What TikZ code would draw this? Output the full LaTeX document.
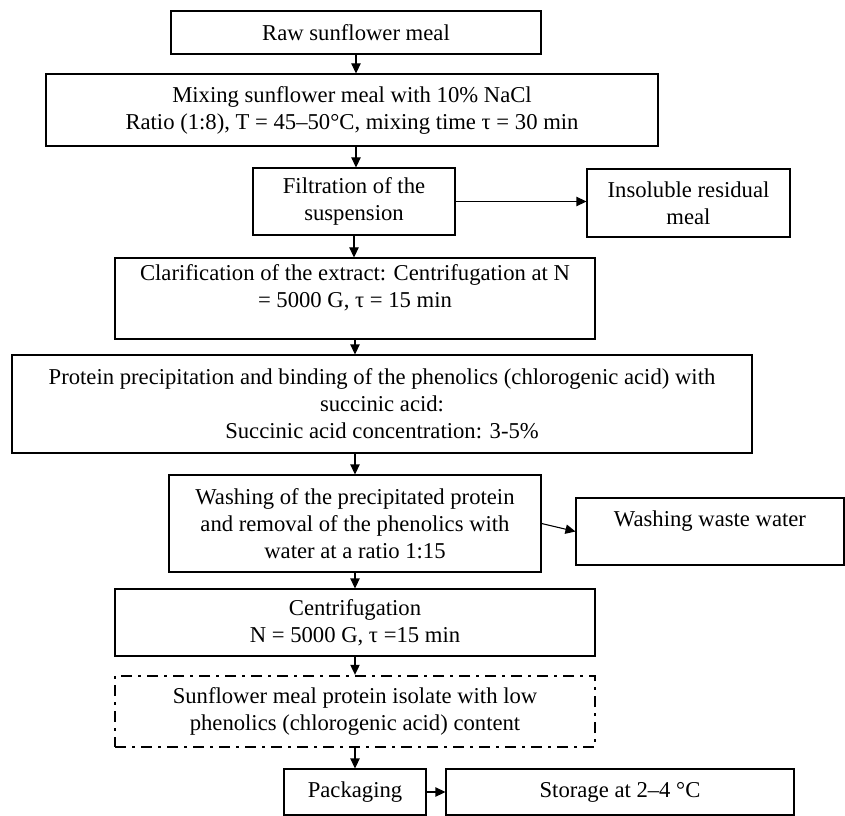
\documentclass[tikz,border=0pt]{standalone}
\usepackage{fontspec}
\setmainfont{Liberation Serif}
\usetikzlibrary{arrows.meta}
\tikzset{
  stepbox/.style={draw, line width=0.8pt, align=center, inner sep=2pt,
    font=\fontsize{17pt}{20.25pt}\selectfont},
  endbox/.style={stepbox, line width=1.8pt,
    dash pattern=on 8.5pt off 4.5pt on 2pt off 4.5pt},
  flow/.style={line width=0.8pt, -{Triangle[length=7.5pt,width=7pt]}}
}
\begin{document}
\begin{tikzpicture}[x=0.75pt, y=-0.75pt]
      \useasboundingbox (0,0) rectangle (845,816);
      \draw
        (356,32.5) node[stepbox, minimum width=277.5pt, minimum height=32.25pt] (raw){Raw sunflower meal}
        (352,110) node[stepbox, minimum width=459pt, minimum height=54pt] (mix){Mixing sunflower meal with 10\% NaCl\\Ratio (1:8), T = 45–50°C, mixing time τ = 30 min}
        (354,201.5) node[stepbox, minimum width=151.5pt, minimum height=50.25pt] (filt){Filtration of the\\suspension}
        (688.5,203) node[stepbox, minimum width=152.25pt, minimum height=51pt] (insol){Insoluble residual\\meal}
        (355,298.5) node[stepbox, minimum width=360pt, minimum height=60.75pt, text depth=19pt] (clar){Clarification of the extract: Centrifugation at N\\= 5000 G, τ = 15 min}
        (382,404) node[stepbox, minimum width=555pt, minimum height=73.5pt] (prot){Protein precipitation and binding of the phenolics (chlorogenic acid) with\\succinic acid:\\Succinic acid concentration: 3-5\%}
        (355,523.5) node[stepbox, minimum width=279pt, minimum height=72.75pt] (wash){Washing of the precipitated protein\\and removal of the phenolics with\\water at a ratio 1:15}
        (710,531.5) node[stepbox, minimum width=201pt, minimum height=50.25pt, text height=11.6pt, text depth=19pt] (waste){Washing waste water}
        (355,622.5) node[stepbox, minimum width=360pt, minimum height=50.25pt] (cent){Centrifugation\\N = 5000 G, τ =15 min}
        (355,711.5) node[endbox, minimum width=360pt, minimum height=53.25pt] (isol){Sunflower meal protein isolate with low\\phenolics (chlorogenic acid) content}
        (355,792) node[stepbox, minimum width=106.5pt, minimum height=34.5pt] (pack){Packaging}
        (620,792) node[stepbox, minimum width=261pt, minimum height=34.5pt] (stor){Storage at 2–4 °C};
      \begin{scope}[flow]
        \draw (raw.south) to (raw.south |- mix.north);
        \draw (raw.south |- mix.south) to (raw.south |- filt.north);
        \draw (filt.east) to (filt.east -| insol.west);
        \draw (filt.south) to (filt.south |- clar.north);
        \draw (clar.south) to (clar.south |- prot.north);
        \draw (clar.south |- prot.south) to (clar.south |- wash.north);
        \draw (wash.east) to (waste.west);
        \draw (wash.south) to (wash.south |- cent.north);
        \draw (cent.south) to (isol.north);
        \draw (isol.south) to (pack.north);
        \draw (pack.east) to (stor.west);
      \end{scope}
    \end{tikzpicture}
\end{document}
